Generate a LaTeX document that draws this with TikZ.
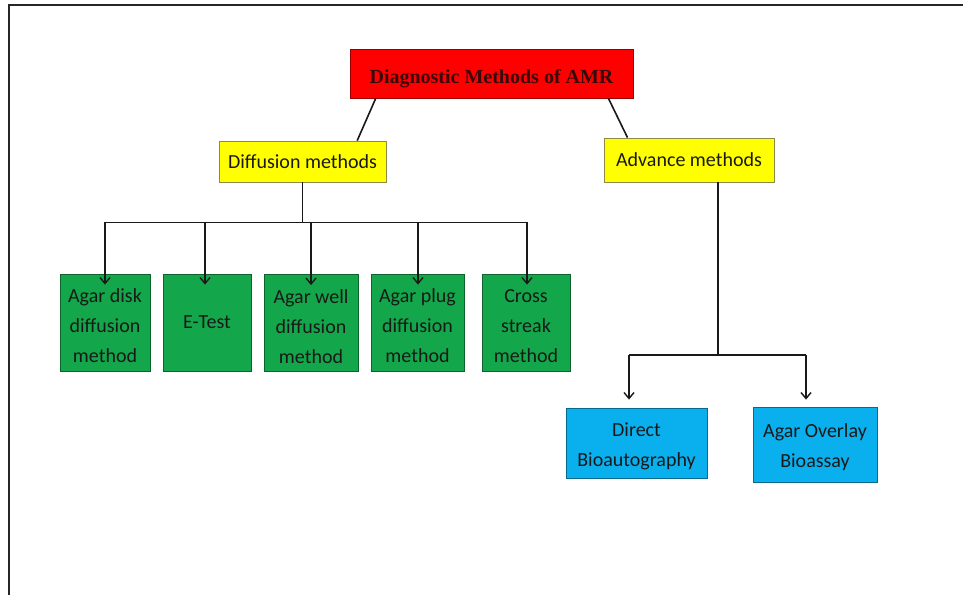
\documentclass[tikz,border=0pt]{standalone}
\usepackage{fontspec}
\setmainfont{Carlito}
\newfontfamily\titlefont{Liberation Serif}
\usetikzlibrary{arrows.meta,calc}
\definecolor{cred}{HTML}{FF0000}
\definecolor{cyel}{HTML}{FFFF00}
\definecolor{cgreen}{HTML}{14A64A}
\definecolor{cblue}{HTML}{0AB0EE}
\definecolor{ctitle}{HTML}{3A0808}
\newcommand{\mylines}[2][-4pt]{\raisebox{#1}[\height][\depth]{\begin{tabular}{@{}c@{}}#2\end{tabular}}}
\newcommand{\mylower}[2]{\raisebox{#1}[\height][\depth]{#2}}
\tikzset{
  box/.style={draw, line width=0.8pt, inner sep=0pt, align=center, font=\fontsize{20}{30}\selectfont, text=black!90},
  redbox/.style={box, fill=cred, draw=red!60!black, font=\titlefont\bfseries\fontsize{20}{24}\selectfont, text=ctitle},
  yelbox/.style={box, fill=cyel, draw=black!50!yellow},
  greenbox/.style={box, fill=cgreen, draw=cgreen!60!black, minimum height=97pt},
  bluebox/.style={box, fill=cblue, draw=cblue!60!black},
  conn/.style={line width=1.6pt, black!90},
  arr/.style={conn, -{Straight Barb[length=6pt,width=10pt,line width=1.4pt]}},
}
\begin{document}
\begin{tikzpicture}[x=1pt,y=-1pt]
\useasboundingbox (0,0) rectangle (963,594);
\fill[white] (0,0) rectangle (963,594);
\draw[line width=2.2pt, black!85] (9,600) -- (9,5) -- (970,5);

\node[redbox, minimum width=283pt, minimum height=49pt] (title) at (491.5,73.5) {\mylower{-5pt}{Diagnostic Methods of AMR}};
\node[yelbox, minimum width=167pt, minimum height=41pt] (diff) at (302.5,161.5) {Diffusion methods};
\node[yelbox, minimum width=170pt, minimum height=44pt] (adv) at (689,160) {Advance methods};

\node[greenbox, minimum width=90pt] (g1) at (105,322.5) {\mylines{Agar disk\\diffusion\\method}};
\node[greenbox, minimum width=88pt] (g2) at (207,322.5) {E-Test};
\node[greenbox, minimum width=94pt] (g3) at (311,323) {\mylines{Agar well\\diffusion\\method}};
\node[greenbox, minimum width=93pt] (g4) at (417.5,322.5) {\mylines{Agar plug\\diffusion\\method}};
\node[greenbox, minimum width=88pt] (g5) at (526,322.5) {\mylines{Cross\\streak\\method}};

\node[bluebox, minimum width=141pt, minimum height=70pt] (b1) at (636.5,443) {\mylines[-2pt]{Direct\\Bioautography}};
\node[bluebox, minimum width=124pt, minimum height=75pt] (b2) at (815,444.5) {\mylines[-2pt]{Agar Overlay\\Bioassay}};

\draw[conn] ($(title.south west)!0.092!(title.south east)$) -- ($(diff.north west)!0.826!(diff.north east)$);
\draw[conn] ($(title.south west)!0.912!(title.south east)$) -- ($(adv.north west)!0.14!(adv.north east)$);

\coordinate (dj) at ($(diff.south)+(0,40)$);
\draw[conn] (diff.south) -- (dj);
\draw[conn] (g1.north |- dj) -- (g5.north |- dj);
\foreach \g/\dx in {g1/0,g2/-2,g3/0,g4/0.5,g5/1}{
  \draw[arr] ([xshift=\dx pt]\g.north |- dj) -- ([xshift=\dx pt,yshift=-11pt]\g.north);
}

\coordinate (aj) at (718,355);
\draw[conn] (adv.south -| aj) -- (aj);
\coordinate (b1t) at ($(b1.north)+(-7.5,-8)$);
\coordinate (b2t) at ($(b2.north)+(-9,-7)$);
\draw[conn] (b1t |- aj) -- (b2t |- aj);
\draw[arr] (b1t |- aj) -- (b1t);
\draw[arr] (b2t |- aj) -- (b2t);
\end{tikzpicture}
\end{document}
